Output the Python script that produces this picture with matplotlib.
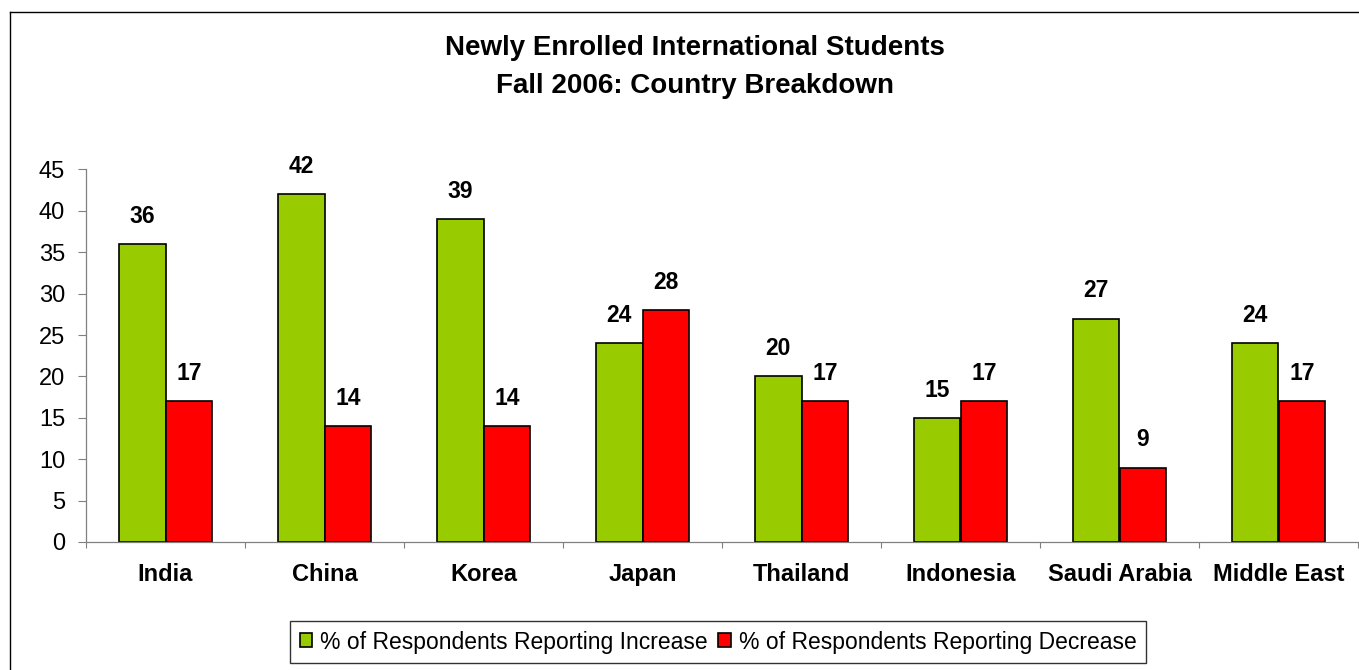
import numpy as np
import matplotlib.pyplot as plt
from matplotlib.lines import Line2D

plt.rcParams['font.family'] = ['Liberation Sans', 'DejaVu Sans']

countries = ["India", "China", "Korea", "Japan", "Thailand", "Indonesia",
             "Saudi Arabia", "Middle East"]
increase = [36, 42, 39, 24, 20, 15, 27, 24]
decrease = [17, 14, 14, 28, 17, 17, 9, 17]
series_names = ["% of Respondents Reporting Increase",
                "% of Respondents Reporting Decrease"]
yticks = [0, 5, 10, 15, 20, 25, 30, 35, 40, 45]

W, H = 1359, 670
fig = plt.figure(figsize=(W / 100, H / 100), dpi=100)
fig.patch.set_facecolor("white")

# axes placed in pixel terms of the reference
x0, x1 = 86, 1358
y_zero, y_top = 542, 169.5
ax = fig.add_axes([x0 / W, 1 - y_zero / H, (x1 - x0) / W, (y_zero - y_top) / H])

x = np.arange(len(countries))
bw = 1 / 3.4
bars_inc = ax.bar(x - bw / 2, increase, bw, color="#99CC00", edgecolor="black",
                  linewidth=1.2, label=series_names[0])
bars_dec = ax.bar(x + bw / 2, decrease, bw, color="#FF0000", edgecolor="black",
                  linewidth=1.2, label=series_names[1])

for bars in (bars_inc, bars_dec):
    for b in bars:
        ax.annotate(f"{b.get_height():g}", (b.get_x() + b.get_width() / 2, b.get_height()),
                    xytext=(0, 20), textcoords="offset points", ha="center", va="center",
                    fontsize=16.5, fontweight="bold")

ax.set_xlim(-0.5, len(countries) - 0.5)
ax.set_ylim(0, 45)
ax.set_yticks(yticks)
ax.tick_params(axis="y", direction="out", length=6, width=0.8, color="#808080",
               labelsize=17, pad=9)

# ticks at category boundaries, labels at centres
ax.set_xticks(np.arange(len(countries) + 1) - 0.5)
ax.set_xticklabels([])
ax.tick_params(axis="x", which="major", direction="out", length=4.5, width=0.8, color="#808080")
ax.set_xticks(x, minor=True)
ax.set_xticklabels(countries, minor=True, fontsize=17, fontweight="bold")
ax.tick_params(axis="x", which="minor", length=0, pad=15)

for s in ("top", "right"):
    ax.spines[s].set_visible(False)
for s in ("left", "bottom"):
    ax.spines[s].set_color("#808080")
    ax.spines[s].set_linewidth(0.9)

fig.text(695 / W, 1 - 48 / H, "Newly Enrolled International Students",
         ha="center", va="center", fontsize=20, fontweight="bold")
fig.text(695 / W, 1 - 86 / H, "Fall 2006: Country Breakdown",
         ha="center", va="center", fontsize=20, fontweight="bold")

leg = fig.legend(loc="center", bbox_to_anchor=(718 / W, 1 - 642 / H), ncol=2,
                 fontsize=16.5, frameon=True, fancybox=False, edgecolor="black",
                 handlelength=0.55, handleheight=0.55, handletextpad=0.35,
                 columnspacing=0.45, borderpad=0.4)
leg.get_frame().set_linewidth(1.0)

# outer chart frame (only left and top edges visible in the crop)
fig.add_artist(Line2D([10 / W, 10 / W], [0, 1 - 12 / H], color="black", lw=1.0))
fig.add_artist(Line2D([10 / W, 1], [1 - 12 / H, 1 - 12 / H], color="black", lw=1.0))

fig.savefig("out.png", dpi=100)
